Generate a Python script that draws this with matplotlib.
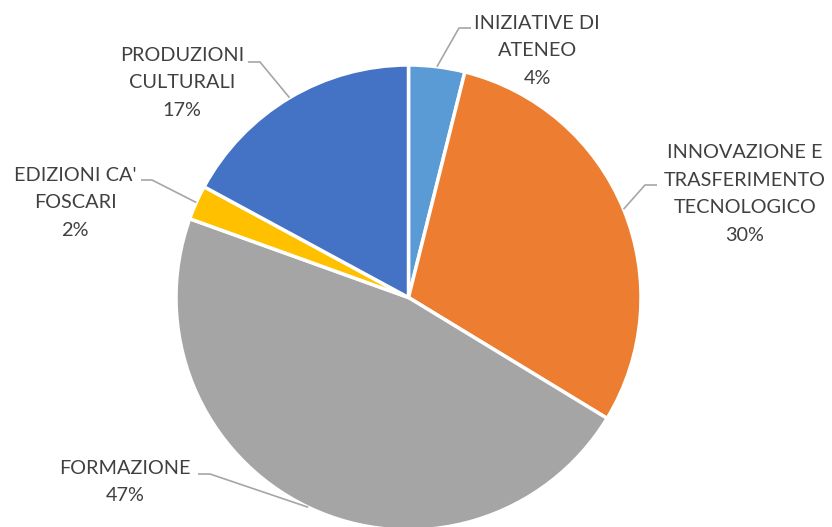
import matplotlib.pyplot as plt
import numpy as np

labels = ['INIZIATIVE DI\nATENEO', 'INNOVAZIONE E\nTRASFERIMENTO\nTECNOLOGICO',
          'FORMAZIONE', "EDIZIONI CA'\nFOSCARI", 'PRODUZIONI\nCULTURALI']
values = [3.9, 29.8, 46.8, 2.4, 17.1]
colors = ['#5B9BD5', '#ED7D31', '#A5A5A5', '#FFC000', '#4472C4']

W, H = 832, 527
# label layout in pixel coords: text centre, elbow, line end
text_pos = [(537, 51), (745, 194), (125, 482), (75, 203), (182, 83)]
elbows = [(459, 28), (645, 185), (210, 474), (152, 180), (260, 62)]
ends = [(471, 28), (657, 185), (198, 474), (141, 180), (248, 62)]

def px(x, y):
    return x, H - y

fig = plt.figure(figsize=(W / 100, H / 100), dpi=100)
ax = fig.add_axes([0, 0, 1, 1])

cx, cy = px(408.5, 297.5)
r = 232.5
wedges, _ = ax.pie(values, colors=colors, startangle=90, counterclock=False,
                   center=(cx, cy), radius=r, frame=True,
                   wedgeprops=dict(edgecolor='white', linewidth=2.5))
ax.set_xlim(0, W)
ax.set_ylim(0, H)
ax.set_aspect('equal')
ax.axis('off')

total = sum(values)
for i, w in enumerate(wedges):
    ang = np.deg2rad((w.theta1 + w.theta2) / 2)
    x0, y0 = cx + r * np.cos(ang), cy + r * np.sin(ang)
    ex, ey = px(*elbows[i])
    nx, ny = px(*ends[i])
    ax.plot([x0, ex, nx], [y0, ey, ny], color='#A6A6A6', lw=1.2, solid_capstyle='butt')
    pct = f'{round(values[i] / total * 100):.0f}%'
    tx, ty = px(*text_pos[i])
    ax.text(tx, ty, labels[i] + '\n' + pct, ha='center', va='center',
            fontsize=14.3, family='Lato', color='#404040', linespacing=1.75)

fig.savefig('out.png', dpi=100)
